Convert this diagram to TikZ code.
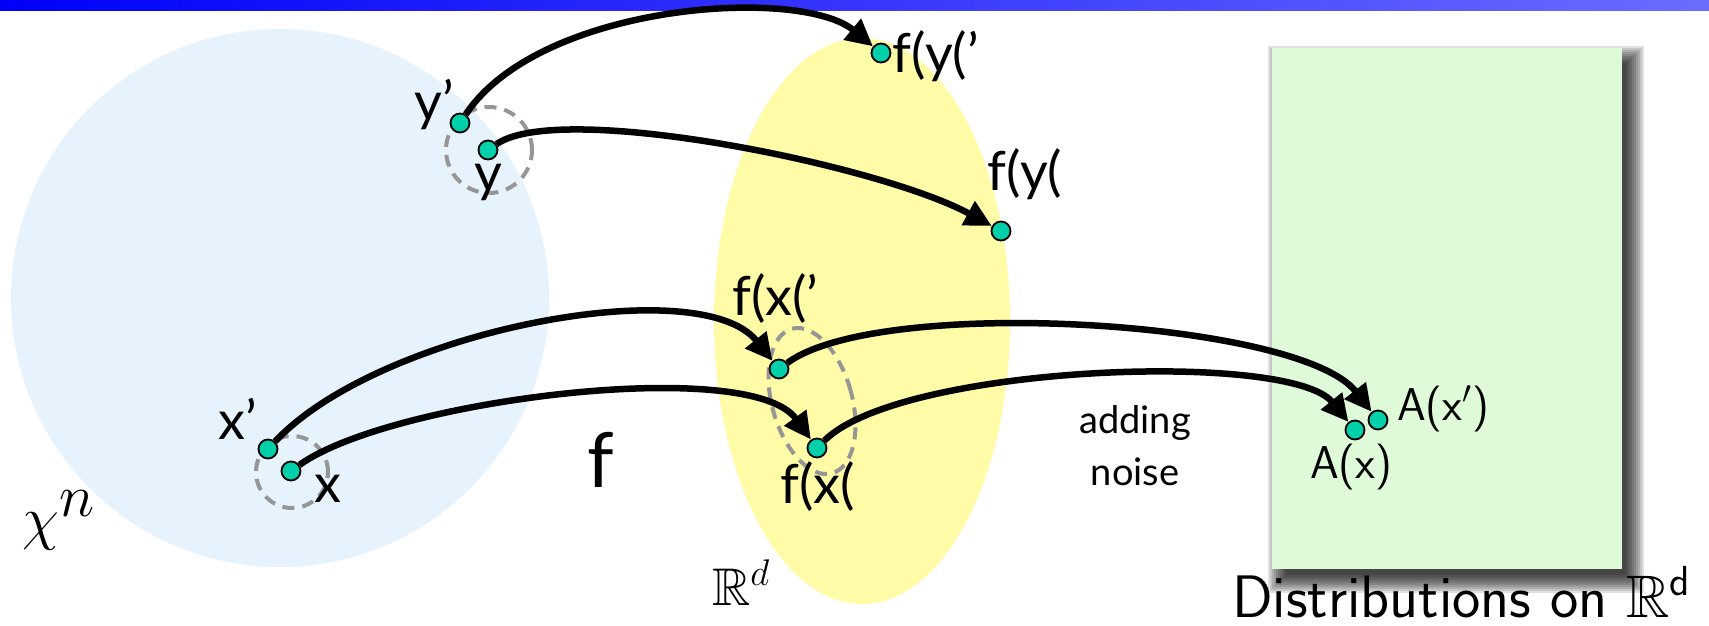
\RequirePackage{fix-cm}
\documentclass[tikz,border=0pt]{standalone}
\usepackage{amssymb}
\usepackage{fontspec}
\newfontfamily\lato{Lato}
\usetikzlibrary{arrows.meta}
\definecolor{barL}{RGB}{0,0,250}
\definecolor{barR}{RGB}{108,108,255}
\definecolor{setblue}{RGB}{230,243,252}
\definecolor{setyellow}{RGB}{255,251,166}
\definecolor{setgreen}{RGB}{222,250,216}
\definecolor{dotc}{RGB}{0,208,170}
\definecolor{dashc}{RGB}{150,150,150}
\tikzset{
  tdot/.style={circle, fill=dotc, draw=black, line width=1.8pt, inner sep=0pt, minimum size=19pt},
  conn/.style={line width=6.5pt, -{Triangle[length=27pt,width=26pt]}},
  grp/.style={draw=dashc, line width=4pt, dash pattern=on 12pt off 8pt},
  lab/.style={font=\lato\fontsize{54}{60}\selectfont, inner sep=0pt, anchor=base west},
  flab/.style={font=\lato\fontsize{54}{60}\selectfont, inner sep=0pt, anchor=base west},
  alab/.style={font=\sffamily\fontsize{46}{52}\selectfont, inner sep=0pt, anchor=base west},
}
\begin{document}
\begin{tikzpicture}[x=1pt,y=-1pt]
\useasboundingbox (0,0) rectangle (1709,625);
% top bar
\shade[left color=barL, right color=barR] (0,0) rectangle (1709,10);
% sets
\fill[setblue] (280,298) circle[radius=269pt];
\fill[setyellow] (862,321) ellipse[x radius=148pt, y radius=283pt];
\foreach \k in {0,...,9} {\fill[black,opacity=0.12] ({1286-2*\k},{64-2*\k}) rectangle ({1626+2*\k},{575+2*\k});}
\fill[setgreen] (1272,48) rectangle (1622,569);
% dashed groups
\draw[grp] (489,150) circle[radius=43pt];
\draw[grp] (292,472) circle[radius=36pt];
\draw[grp, rotate around={15.6:(812,401)}] (812,401) ellipse[x radius=40pt, y radius=75pt];
% points
\node[tdot] (y1) at (460,123) {};
\node[tdot] (y) at (488,150) {};
\node[tdot] (fy1) at (881,53) {};
\node[tdot] (fy) at (1001,231) {};
\node[tdot] (x1) at (268,449) {};
\node[tdot] (x) at (291,471) {};
\node[tdot] (fx1) at (779,369) {};
\node[tdot] (fx) at (817,448) {};
\node[tdot] (ax) at (1355,430) {};
\node[tdot] (ax1) at (1378,420) {};
% connectors
\draw[conn] (y1) .. controls (540,3) and (800,-14) .. (fy1);
\draw[conn] (y) .. controls (560,100) and (880,165) .. (fy);
\draw[conn] (x1) .. controls (380,330) and (700,270) .. (fx1);
\draw[conn] (x) .. controls (390,400) and (750,355) .. (fx);
\draw[conn] (fx1) .. controls (880,295) and (1300,320) .. (ax1);
\draw[conn] (fx) .. controls (900,365) and (1290,350) .. (ax);
% labels
\node[lab] (ly1) at (414,120) {y’};
\node[lab] (ly) at (474,191) {y};
\node[lab] (lx1) at (218,439) {x’};
\node[lab] (lx) at (314,502) {x};
\node[flab] (lfy1) at (892,72) {f(y(’};
\node[flab] (lfy) at (987,190) {f(y(};
\node[flab] (lfx1) at (732,315) {f(x(’};
\node[flab] (lfx) at (780,503) {f(x(};
\node[alab] (lax) at (1310,478) {A(x)};
\node[alab] (lax1) at (1397,420) {A(x$'$)};
\node[font=\lato\fontsize{38}{52}\selectfont, align=center, inner sep=0pt] (noise) at (1135,446) {adding\\noise};
\node[font=\lato\fontsize{76}{80}\selectfont, anchor=base west, inner sep=0pt] (fmap) at (587,487) {f};
\node[font=\fontsize{60}{64}\selectfont, anchor=base west, inner sep=0pt] (chin) at (22,538) {$\chi^{\textstyle n}$};
\node[font=\fontsize{53}{60}\selectfont, anchor=base west, inner sep=0pt] (rd) at (712,605) {$\mathbb{R}^d$};
\node[font=\sffamily\fontsize{60}{64}\selectfont, anchor=base west, inner sep=0pt] (dist) at (1232,617) {Distributions on $\mathbb{R}^{\mathsf{d}}$};
\end{tikzpicture}
\end{document}
